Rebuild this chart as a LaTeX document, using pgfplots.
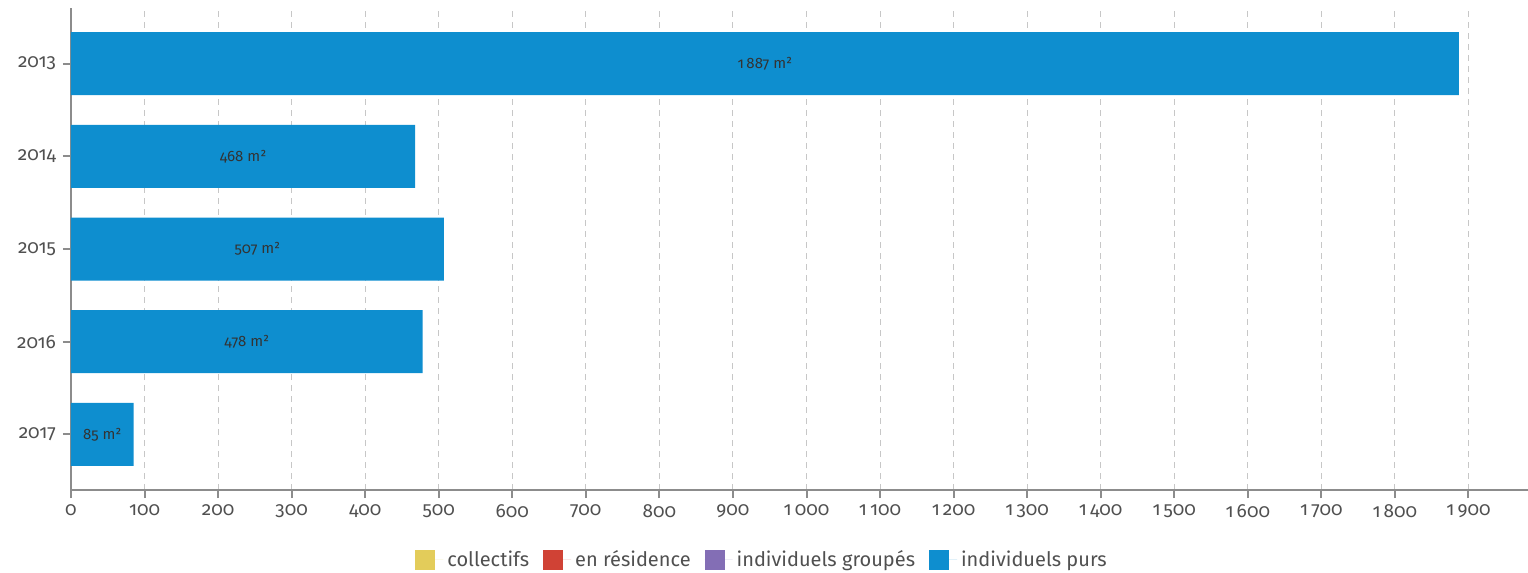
\documentclass[border=0pt]{standalone}
\usepackage{fontspec}
\setmainfont{Fira Sans}[Numbers=OldStyle]
\usepackage{pgfplots}
\pgfplotsset{compat=1.18}
\usepackage{pgfplotstable}
\usetikzlibrary{calc}
\definecolor{cYel}{HTML}{E3CC5A}
\definecolor{cRed}{HTML}{D04235}
\definecolor{cPur}{HTML}{836EB5}
\definecolor{cBlu}{HTML}{0E8ECF}
\definecolor{axisgray}{HTML}{8C8C8C}
\definecolor{txtgray}{HTML}{505050}

\pgfplotstableread[col sep=comma]{
y,v,lab
4,1887,{1\,887 m²}
3,468,{468 m²}
2,507,{507 m²}
1,478,{478 m²}
0,85,{85 m²}
}\data

\begin{document}
\begin{tikzpicture}
\begin{axis}[
  name=ax,
  scale only axis, width=728.5pt, height=241pt,
  xmin=0, xmax=1981, ymin=-0.6, ymax=4.6,
  axis x line*=bottom, axis y line*=left,
  axis line style={axisgray, line width=1pt},
  xtick={0,100,...,1900},
  ytick={0,...,4}, yticklabels={2017,2016,2015,2014,2013},
  tick align=outside, major tick length=4pt,
  tick style={axisgray, line width=1pt},
  xmajorgrids, grid style={black!22, dash pattern=on 3pt off 2.5pt, line width=0.5pt},
  /pgf/number format/assume math mode=true,
  /pgf/number format/1000 sep={\,},
  ticklabel style={font=\fontsize{9.5}{11}\selectfont, text=txtgray},
  clip=false,
  legend columns=4,
  legend style={draw=none, fill=none, at={(rel axis cs:0.475,-0.145)}, anchor=center,
    font=\fontsize{10}{12}\selectfont, text=txtgray,
    /tikz/every even column/.append style={column sep=5pt}},
  legend image code/.code={\fill[#1] (0pt,-5pt) rectangle (10pt,5pt); \path (0pt,0pt) -- (14pt,0pt);},
]
\addlegendimage{fill=cYel, draw=none}
\addlegendentry{collectifs}
\addlegendimage{fill=cRed, draw=none}
\addlegendentry{en résidence}
\addlegendimage{fill=cPur, draw=none}
\addlegendentry{individuels groupés}
\addplot[xbar, bar width=31.5pt, fill=cBlu, draw=none] table[x=v, y=y] {\data};
\addlegendentry{individuels purs}
\addplot[forget plot, only marks, mark=none, nodes near coords, point meta=explicit symbolic,
  nodes near coords style={anchor=center, font=\fontsize{7.5}{9}\selectfont, text=black!80}]
  table[x expr=\thisrow{v}/2, y=y, meta=lab] {\data};
\end{axis}
\pgfresetboundingbox
\path ($(ax.south west)+(-35.5pt,-41pt)$) rectangle ($(ax.north east)+(0pt,4pt)$);
\end{tikzpicture}
\end{document}
